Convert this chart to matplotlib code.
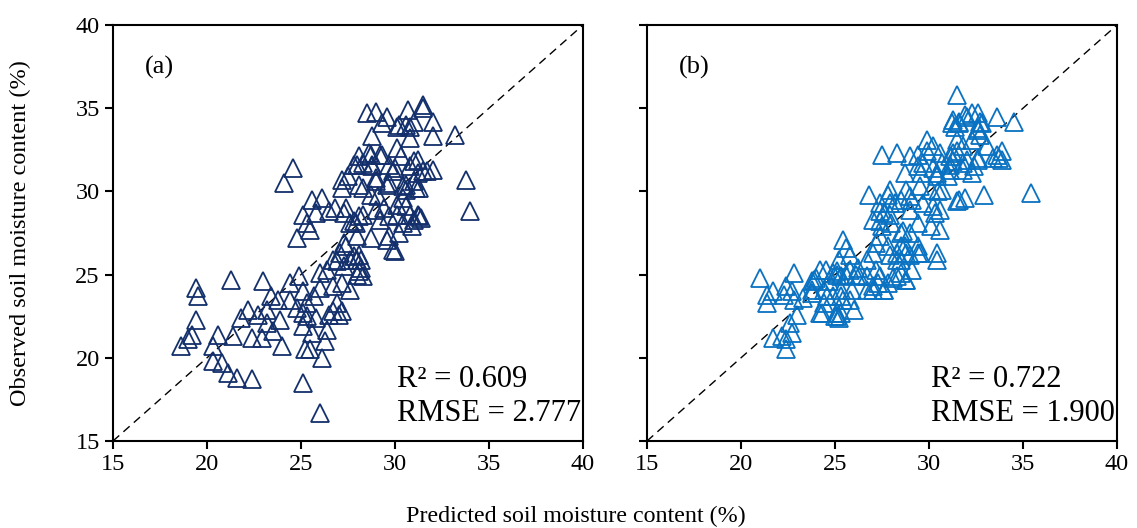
import numpy as np
import matplotlib
matplotlib.use("Agg")
import matplotlib.pyplot as plt

plt.rcParams['font.family'] = ['Liberation Serif', 'DejaVu Serif']

# panel (a): predicted vs observed soil moisture (%)
pred_a = [19.4, 19.5, 21.3, 23.0, 19.4, 19.2, 19.0, 18.6, 20.6, 20.3, 20.3, 20.8, 21.1, 21.6, 22.4, 25.1,
          21.4, 21.8, 22.2, 22.4, 22.9, 22.7, 23.2, 23.4, 23.8, 23.2, 23.5, 24.0, 23.9, 24.4, 24.9, 24.4,
          24.8, 25.3, 25.2, 25.1, 25.1,
          30.0, 26.0, 26.1, 25.5, 25.6, 26.3, 26.4, 25.8, 26.7, 27.2, 26.9, 25.1, 25.3, 25.7, 26.0, 26.7,
          27.2, 27.6, 26.0, 26.4, 27.3, 28.0, 28.2, 27.6, 26.9, 28.1, 26.5, 27.0,
          24.6, 24.1,
          24.8, 25.1, 25.3, 25.5, 25.8, 26.5, 27.3, 27.8, 28.0, 28.7, 29.9, 29.6, 29.2, 30.4, 27.3, 27.1,
          26.7, 27.8, 28.2, 28.3, 28.1,
          28.5, 29.0, 29.6, 29.3, 30.2, 30.7, 31.5, 31.5, 31.0, 30.8, 32.0, 32.0, 30.8, 28.8, 33.2, 30.1,
          28.1, 28.7, 29.3, 30.3, 31.0, 32.0, 31.7, 28.0, 28.8, 30.0, 31.2, 27.2, 27.5, 27.2, 28.3, 29.0,
          29.7, 30.4, 31.1, 30.6, 25.6, 26.1, 26.8, 27.4, 28.1, 29.0, 29.7, 30.1, 30.6, 31.2, 31.4, 27.6,
          29.7, 27.4, 28.0, 33.8, 34.0,
          30.6, 30.1, 28.6, 29.2, 31.2, 27.8, 28.3, 28.8, 29.7, 29.9, 30.8, 31.5, 28.1, 29.0, 29.6, 30.6,
          31.0, 31.3, 28.7, 29.1, 30.4, 28.3, 29.4, 30.1, 30.8, 27.9, 30.2, 31.0, 31.3, 30.9]
obs_a = [24.2, 23.7, 24.7, 24.6, 22.3, 21.4, 21.1, 20.7, 21.4, 20.7, 19.8, 19.7, 19.1, 18.8, 18.7, 18.5,
         21.3, 22.4, 22.9, 21.2, 21.2, 22.6, 22.9, 23.7, 23.5, 22.1, 21.6, 20.7, 22.3, 24.5, 24.9, 23.5,
         23.0, 22.5, 20.5, 24.0, 21.9,
         26.4, 16.7, 20.0, 20.5, 21.5, 21.0, 21.7, 22.4, 22.8, 22.8, 23.3, 22.7, 23.3, 23.7, 24.2, 24.3,
         24.5, 24.1, 25.1, 25.3, 25.5, 25.0, 25.4, 25.9, 25.8, 26.2, 22.6, 22.6,
         31.4, 30.5,
         27.2, 28.6, 28.1, 27.7, 28.7, 28.8, 28.7, 28.2, 27.3, 27.2, 26.5, 27.1, 28.3, 28.1, 26.9, 26.3,
         25.9, 26.1, 25.9, 24.9, 25.2,
         34.7, 34.8, 34.5, 34.1, 34.0, 34.9, 35.2, 35.0, 34.2, 33.9, 34.2, 33.3, 33.2, 33.3, 33.4, 32.6,
         32.1, 32.2, 32.2, 32.1, 31.8, 31.3, 31.2, 31.6, 31.5, 31.4, 31.1, 30.7, 30.9, 30.2, 30.2, 30.6,
         30.5, 30.3, 30.2, 30.1, 29.5, 29.6, 29.0, 29.0, 28.5, 28.9, 28.5, 29.2, 29.1, 28.6, 28.4, 28.1,
         27.3, 26.7, 25.9, 30.7, 28.8,
         34.0, 33.9, 32.3, 32.2, 31.9, 31.6, 31.7, 31.6, 31.6, 31.2, 31.5, 31.2, 30.4, 30.8, 30.4, 30.4,
         30.6, 30.2, 29.8, 29.7, 29.6, 28.6, 29.0, 28.6, 28.6, 28.1, 27.5, 28.3, 28.5, 27.9]

# panel (b)
pred_b = [21.0, 21.7, 21.4, 21.4, 22.8, 22.4, 22.7, 22.8, 23.0, 22.6, 22.7, 22.4, 22.4, 21.7, 22.2, 23.8,
          24.2, 24.0, 24.7, 23.3, 23.8, 24.3, 24.4, 24.9, 25.0, 25.2, 25.1,
          22.3, 23.9, 23.8, 24.4, 24.2, 25.1, 25.2, 25.4, 25.1, 25.6, 25.3, 25.9, 26.1, 26.2, 25.4, 25.6,
          25.8, 26.7, 26.7, 27.2, 27.3, 27.0, 27.6, 27.2, 27.0, 26.8, 27.4, 27.4, 27.8, 28.2, 27.9, 28.0,
          28.5, 27.9, 28.3, 28.5, 28.1, 28.8, 28.8, 29.0, 29.0, 29.0, 28.7,
          31.5, 33.6, 32.6, 31.9, 31.2, 31.4, 31.6, 32.6, 32.8, 32.7, 31.5, 31.8, 29.9, 30.2, 27.5, 28.3,
          29.0, 29.4, 29.9, 30.6, 31.1, 31.5, 31.3, 32.0, 32.4, 32.6, 33.6, 33.9, 33.7, 33.1, 28.7, 29.4,
          29.7, 29.6, 30.2, 30.4, 30.7, 31.1, 31.8, 32.3, 27.9, 28.8, 29.5, 30.1, 30.5, 31.6, 31.9, 32.9,
          27.4, 27.9, 28.5, 29.1, 29.7, 30.2, 30.6, 27.6,
          34.5, 33.9, 33.4, 31.5, 27.0, 27.5, 28.6, 29.4, 30.1, 30.6, 30.3, 30.7, 31.0, 30.4, 31.1, 31.3,
          31.8, 32.6, 32.3, 32.6, 31.3, 31.6, 32.0, 32.3, 32.7, 30.4, 29.4, 28.5, 28.3, 29.4, 27.8, 27.4,
          30.4, 29.5, 29.0, 28.5, 29.1, 28.8, 28.3, 27.6, 27.8, 27.0, 26.7, 27.4, 26.3, 25.8, 25.3, 24.9,
          24.5, 25.3, 25.8, 25.3, 25.1, 26.0, 24.6,
          35.4]
obs_b = [24.8, 24.0, 23.3, 23.8, 25.1, 24.3, 24.0, 23.5, 22.6, 22.1, 21.5, 21.1, 20.5, 21.2, 21.3, 24.6,
         25.3, 24.8, 24.6, 23.6, 23.9, 22.7, 23.3, 23.7, 22.5, 25.9, 25.0,
         23.8, 24.7, 24.1, 24.1, 22.7, 22.7, 22.4, 23.5, 25.2, 25.0, 24.1, 24.1, 25.0, 25.4, 27.1, 26.6,
         26.2, 25.9, 24.9, 25.3, 24.5, 24.1, 24.1, 26.9, 26.3, 29.8, 28.8, 28.2, 29.8, 29.3, 28.6, 28.1,
         27.5, 26.2, 25.9, 25.1, 24.8, 24.7, 26.3, 27.5, 28.9, 29.7, 26.7,
         35.8, 34.5, 34.7, 34.6, 34.1, 33.9, 34.2, 33.8, 34.1, 33.4, 33.1, 32.7, 33.1, 32.7, 32.2, 32.3,
         32.1, 32.2, 32.4, 32.3, 32.1, 32.4, 31.8, 31.9, 31.5, 32.0, 32.2, 32.4, 32.0, 32.7, 31.1, 31.5,
         31.7, 31.1, 31.4, 30.9, 31.7, 31.3, 31.3, 31.1, 30.1, 30.1, 30.3, 30.1, 30.0, 29.5, 29.6, 29.8,
         29.3, 29.3, 29.5, 29.5, 29.3, 29.1, 28.9, 28.7,
         34.2, 31.9, 32.0, 29.4, 28.3, 27.9, 27.6, 28.1, 27.9, 27.7, 28.7, 30.1, 30.9, 31.1, 31.6, 32.3,
         31.7, 31.9, 33.1, 33.7, 34.3, 34.1, 34.5, 34.7, 34.2, 26.3, 26.7, 26.7, 26.3, 26.3, 26.7, 27.3,
         25.9, 26.3, 26.2, 25.9, 25.3, 24.7, 24.9, 24.1, 24.5, 24.3, 24.1, 24.9, 24.9, 25.3, 24.9, 25.1,
         25.3, 23.7, 23.5, 22.7, 22.5, 22.9, 23.7,
         29.9]

panels = [("(a)", pred_a, obs_a, "#14306C", "0.609", "2.777"),
          ("(b)", pred_b, obs_b, "#0A72C2", "0.722", "1.900")]

fig = plt.figure(figsize=(11.37, 5.28), dpi=100)
lefts = [113 / 1137, 647 / 1137]

for i, (tag, xs, ys, col, r2, rmse) in enumerate(panels):
    ax = fig.add_axes([lefts[i], 1 - 441 / 528, 470 / 1137, 416 / 528])
    ax.plot([15, 40], [15, 40], color="black", lw=1.0, ls=(0, (6, 4)))
    ax.plot(xs, ys, ls="none", marker="^", ms=12.3, mfc="none", mec=col, mew=1.3)
    ax.set_xlim(15, 40)
    ax.set_ylim(15, 40)
    ax.set_xticks(np.arange(15, 41, 5))
    ax.set_yticks(np.arange(15, 41, 5))
    ax.tick_params(direction="out", length=6, width=1.5, labelsize=17.5)
    for s in ax.spines.values():
        s.set_linewidth(1.5)
    if i == 1:
        ax.set_yticklabels([])
    else:
        ax.set_ylabel("Observed soil moisture content (%)", fontsize=17.5)
        ax.yaxis.set_label_coords(-0.174, 0.5)
    ax.text(0.068, 0.897, tag, transform=ax.transAxes, fontsize=19, va="center")
    ax.text(0.605, 0.147, "R² = " + r2, transform=ax.transAxes, fontsize=22, va="center")
    ax.text(0.605, 0.067, "RMSE = " + rmse, transform=ax.transAxes, fontsize=22, va="center")

fig.text(576 / 1137, 0.022, "Predicted soil moisture content (%)", fontsize=17.3, ha="center", va="center")

fig.savefig("out.png", dpi=100)
